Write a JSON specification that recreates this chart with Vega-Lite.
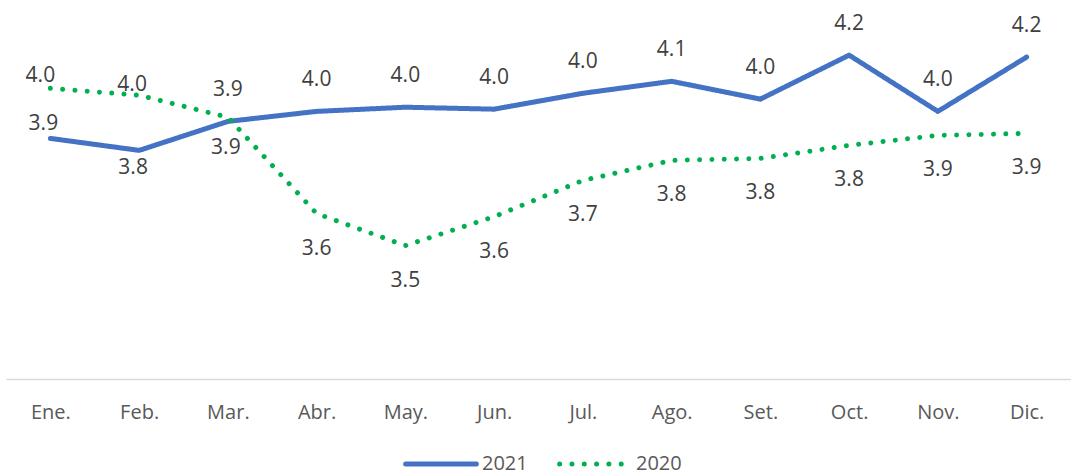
{
  "$schema": "https://vega.github.io/schema/vega-lite/v6.json",
  "width": 1065,
  "height": 362,
  "autosize": "none",
  "padding": {"left": 6, "top": 17, "right": 0, "bottom": 91},
  "background": "white",
  "config": {"view": {"stroke": null}, "font": "Open Sans"},
  "data": {
    "values": [
      {"month": "Ene.", "year": "2021", "value": 3.864},
      {"month": "Feb.", "year": "2021", "value": 3.821},
      {"month": "Mar.", "year": "2021", "value": 3.925},
      {"month": "Abr.", "year": "2021", "value": 3.961},
      {"month": "May.", "year": "2021", "value": 3.976},
      {"month": "Jun.", "year": "2021", "value": 3.969},
      {"month": "Jul.", "year": "2021", "value": 4.026},
      {"month": "Ago.", "year": "2021", "value": 4.069},
      {"month": "Set.", "year": "2021", "value": 4.005},
      {"month": "Oct.", "year": "2021", "value": 4.163},
      {"month": "Nov.", "year": "2021", "value": 3.961},
      {"month": "Dic.", "year": "2021", "value": 4.156},
      {"month": "Ene.", "year": "2020", "value": 4.044},
      {"month": "Feb.", "year": "2020", "value": 4.019},
      {"month": "Mar.", "year": "2020", "value": 3.94},
      {"month": "Abr.", "year": "2020", "value": 3.594},
      {"month": "May.", "year": "2020", "value": 3.479},
      {"month": "Jun.", "year": "2020", "value": 3.583},
      {"month": "Jul.", "year": "2020", "value": 3.713},
      {"month": "Ago.", "year": "2020", "value": 3.785},
      {"month": "Set.", "year": "2020", "value": 3.792},
      {"month": "Oct.", "year": "2020", "value": 3.839},
      {"month": "Nov.", "year": "2020", "value": 3.875},
      {"month": "Dic.", "year": "2020", "value": 3.882}
    ]
  },
  "encoding": {
    "x": {
      "field": "month",
      "type": "ordinal",
      "sort": null,
      "scale": {"type": "point", "padding": 0.5},
      "axis": {
        "title": null,
        "labelAngle": 0,
        "ticks": false,
        "grid": false,
        "domainColor": "#d9d9d9",
        "domainWidth": 1.5,
        "labelColor": "#595959",
        "labelFont": "Open Sans",
        "labelFontSize": 20,
        "labelPadding": 23
      }
    },
    "y": {
      "field": "value",
      "type": "quantitative",
      "scale": {"domain": [3.0, 4.3], "zero": false, "nice": false},
      "axis": null
    }
  },
  "layer": [
    {
      "mark": {"type": "line", "strokeWidth": 5, "strokeCap": "round", "strokeJoin": "round"},
      "encoding": {
        "color": {
          "field": "year",
          "type": "nominal",
          "scale": {"domain": ["2021", "2020"], "range": ["#4472C4", "#00B050"]},
          "legend": {
            "title": null,
            "orient": "none",
            "legendX": 397,
            "legendY": 409,
            "padding": 0,
            "direction": "horizontal",
            "symbolType": "stroke",
            "symbolSize": 5000,
            "symbolStrokeWidth": 5,
            "labelFont": "Open Sans",
            "labelFontSize": 20,
            "labelColor": "#595959",
            "labelOffset": 3,
            "columnPadding": 21,
            "encode": {"symbols": {"update": {"strokeCap": {"value": "round"}}}}
          }
        },
        "strokeDash": {
          "field": "year",
          "type": "nominal",
          "scale": {"domain": ["2021", "2020"], "range": [[1, 0], [0.01, 12.3]]},
          "legend": {
            "title": null,
            "orient": "none",
            "legendX": 397,
            "legendY": 409,
            "padding": 0,
            "direction": "horizontal",
            "symbolType": "stroke",
            "symbolSize": 5000,
            "symbolStrokeWidth": 5,
            "labelFont": "Open Sans",
            "labelFontSize": 20,
            "labelColor": "#595959",
            "labelOffset": 3,
            "columnPadding": 21,
            "encode": {"symbols": {"update": {"strokeCap": {"value": "round"}}}}
          }
        }
      }
    },
    {
      "transform": [{"filter": "datum.year == '2021' && datum.month != 'Ene.' && datum.month != 'Feb.'"}],
      "mark": {"type": "text", "font": "Open Sans", "fontSize": 21, "color": "#404040", "dy": -31, "baseline": "middle"},
      "encoding": {"text": {"field": "value", "type": "quantitative", "format": ".1f"}}
    },
    {
      "transform": [{"filter": "datum.year == '2021' && datum.month == 'Ene.'"}],
      "mark": {"type": "text", "font": "Open Sans", "fontSize": 21, "color": "#404040", "dy": -14, "dx": -7, "baseline": "middle"},
      "encoding": {"text": {"field": "value", "type": "quantitative", "format": ".1f"}}
    },
    {
      "transform": [{"filter": "datum.year == '2021' && datum.month == 'Feb.'"}],
      "mark": {"type": "text", "font": "Open Sans", "fontSize": 21, "color": "#404040", "dy": 18, "dx": -6, "baseline": "middle"},
      "encoding": {"text": {"field": "value", "type": "quantitative", "format": ".1f"}}
    },
    {
      "transform": [{"filter": "datum.year == '2020' && datum.month != 'Ene.' && datum.month != 'Feb.' && datum.month != 'Mar.'"}],
      "mark": {"type": "text", "font": "Open Sans", "fontSize": 21, "color": "#404040", "dy": 35, "baseline": "middle"},
      "encoding": {"text": {"field": "value", "type": "quantitative", "format": ".1f"}}
    },
    {
      "transform": [{"filter": "datum.year == '2020' && datum.month == 'Mar.'"}],
      "mark": {"type": "text", "font": "Open Sans", "fontSize": 21, "color": "#404040", "dy": 31, "dx": -2, "baseline": "middle"},
      "encoding": {"text": {"field": "value", "type": "quantitative", "format": ".1f"}}
    },
    {
      "transform": [{"filter": "datum.year == '2020' && datum.month == 'Ene.'"}],
      "mark": {"type": "text", "font": "Open Sans", "fontSize": 21, "color": "#404040", "dy": -12, "dx": -10, "baseline": "middle"},
      "encoding": {"text": {"field": "value", "type": "quantitative", "format": ".1f"}}
    },
    {
      "transform": [{"filter": "datum.year == '2020' && datum.month == 'Feb.'"}],
      "mark": {"type": "text", "font": "Open Sans", "fontSize": 21, "color": "#404040", "dy": -10, "dx": -7, "baseline": "middle"},
      "encoding": {"text": {"field": "value", "type": "quantitative", "format": ".1f"}}
    }
  ]
}
